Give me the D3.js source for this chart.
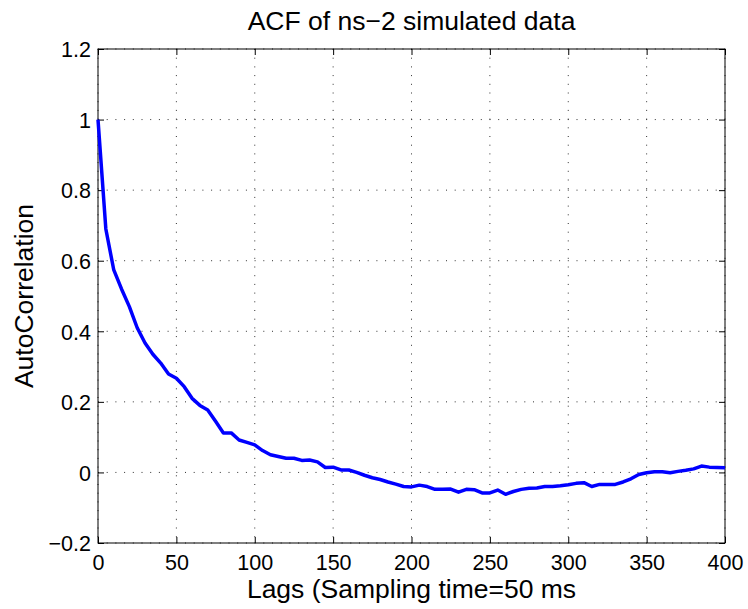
<!DOCTYPE html>
<html>
<head>
<meta charset="utf-8">
<script src="https://cdn.jsdelivr.net/npm/d3@7"></script>
<style>
  body { margin: 0; background: #fff; }
  svg { display: block; font-family: "Liberation Sans", Arial, sans-serif; }
  .tick text { fill: #000; }
</style>
</head>
<body>
<svg width="748" height="609"></svg>
<script>
// ACF values, one every 5 lags
var lags = d3.range(0, 401, 5);
var acf = [
  1.0, 0.69, 0.575, 0.52, 0.47, 0.41, 0.367, 0.335, 0.31, 0.279,
  0.267, 0.243, 0.21, 0.19, 0.177, 0.145, 0.112, 0.112, 0.092, 0.085,
  0.078, 0.062, 0.05, 0.045, 0.04, 0.04, 0.034, 0.035, 0.03, 0.014,
  0.015, 0.007, 0.007, 0.0, -0.008, -0.015, -0.02, -0.027, -0.033, -0.04,
  -0.041, -0.036, -0.04, -0.048, -0.048, -0.047, -0.056, -0.048, -0.049, -0.058,
  -0.058, -0.05, -0.062, -0.054, -0.048, -0.045, -0.044, -0.04, -0.04, -0.038,
  -0.035, -0.031, -0.029, -0.04, -0.034, -0.034, -0.034, -0.027, -0.018, -0.006,
  -0.001, 0.002, 0.002, -0.001, 0.003, 0.006, 0.01, 0.018, 0.015, 0.014,
  0.013
];
var xTicks = [0, 50, 100, 150, 200, 250, 300, 350, 400];
var yTicks = [-0.2, 0, 0.2, 0.4, 0.6, 0.8, 1, 1.2];

var titleText = 'ACF of ns\u22122 simulated data';
var xLabel = 'Lags (Sampling time=50 ms';
var yLabel = 'AutoCorrelation';

var svg = d3.select('svg');
// plot box (note: "top" is taken by window.top, so use other names)
var pLeft = 98, pRight = 725, pTop = 49, pBottom = 543;

var x = d3.scaleLinear().domain([0, 400]).range([pLeft, pRight]);
var y = d3.scaleLinear().domain([-0.2, 1.2]).range([pBottom, pTop]);

// grid (dotted)
var grid = svg.append('g');
grid.selectAll('line.gx').data(xTicks).enter().append('line')
  .attr('x1', d => x(d)).attr('x2', d => x(d))
  .attr('y1', pTop).attr('y2', pBottom)
  .attr('stroke', '#333').attr('stroke-width', 1)
  .attr('stroke-dasharray', '1,7.7');
grid.selectAll('line.gy').data(yTicks).enter().append('line')
  .attr('x1', pLeft).attr('x2', pRight)
  .attr('y1', d => y(d)).attr('y2', d => y(d))
  .attr('stroke', '#333').attr('stroke-width', 1)
  .attr('stroke-dasharray', '1,7.7');

var fmt = d => d < 0 ? '\u2212' + Math.abs(d) : '' + d;

// axes, ticks pointing inward
var xAxis = d3.axisBottom(x).tickValues(xTicks).tickSizeInner(-6).tickSizeOuter(0)
  .tickPadding(12).tickFormat(fmt);
var yAxis = d3.axisLeft(y).tickValues(yTicks).tickSizeInner(-6).tickSizeOuter(0)
  .tickPadding(7).tickFormat(fmt);

svg.append('g').attr('transform', 'translate(0,' + pBottom + ')').call(xAxis)
  .call(g => g.select('.domain').remove())
  .selectAll('text').attr('font-size', 21.5).attr('font-family', null).attr('dy', '0.71em');
svg.append('g').attr('transform', 'translate(' + pLeft + ',0)').call(yAxis)
  .call(g => g.select('.domain').remove())
  .selectAll('text').attr('font-size', 21.5).attr('font-family', null).attr('dy', '0.36em');

// ticks on top and right side as well
svg.append('g').attr('transform', 'translate(0,' + pTop + ')')
  .call(d3.axisTop(x).tickValues(xTicks).tickSizeInner(-6).tickSizeOuter(0).tickFormat(''))
  .call(g => g.select('.domain').remove());
svg.append('g').attr('transform', 'translate(' + pRight + ',0)')
  .call(d3.axisRight(y).tickValues(yTicks).tickSizeInner(-6).tickSizeOuter(0).tickFormat(''))
  .call(g => g.select('.domain').remove());

// box
svg.append('rect')
  .attr('x', pLeft).attr('y', pTop)
  .attr('width', pRight - pLeft).attr('height', pBottom - pTop)
  .attr('fill', 'none').attr('stroke', '#000').attr('stroke-width', 1);

// the ACF line
var line = d3.line().x((d, i) => x(lags[i])).y(d => y(d));
svg.append('path').datum(acf)
  .attr('d', line)
  .attr('fill', 'none')
  .attr('stroke', '#0000ff')
  .attr('stroke-width', 3.5)
  .attr('stroke-linejoin', 'round');

// title and labels
svg.append('text').attr('x', (pLeft + pRight) / 2).attr('y', 30)
  .attr('text-anchor', 'middle').attr('font-size', 26.5).text(titleText);
svg.append('text').attr('x', (pLeft + pRight) / 2).attr('y', 598)
  .attr('text-anchor', 'middle').attr('font-size', 26.5).text(xLabel);
svg.append('text').attr('transform', 'translate(33,' + ((pTop + pBottom) / 2) + ') rotate(-90)')
  .attr('text-anchor', 'middle').attr('font-size', 26.5).text(yLabel);
</script>
</body>
</html>
